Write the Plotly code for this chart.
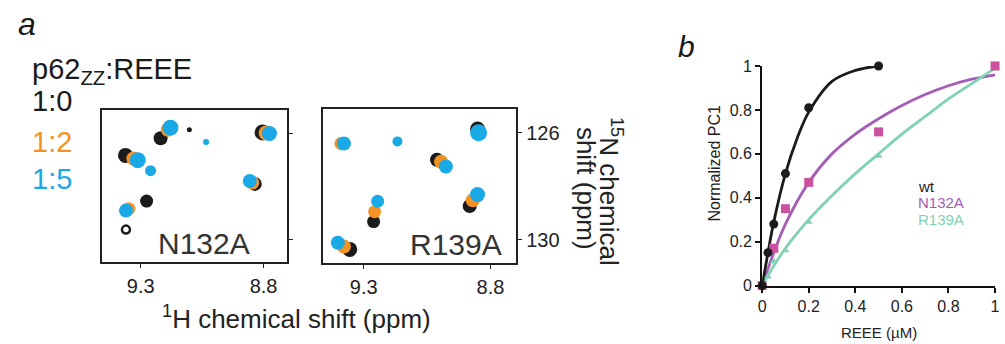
import plotly.graph_objects as go

W, H = 1005, 344
FONT = "Liberation Sans, Arial, sans-serif"

# ---------------- Data: panel a (NMR peaks, ppm) ----------------
n132a_black_x = [9.362, 9.219, 9.102, 8.804, 9.276, 8.836]
n132a_black_y = [126.83, 126.18, 125.86, 125.96, 128.56, 127.91]
n132a_ring_x = [9.360]
n132a_ring_y = [129.64]
n132a_orange_x = [9.330, 9.190, 8.790, 9.348, 8.846]
n132a_orange_y = [126.95, 125.86, 125.98, 128.85, 127.86]
n132a_blue_x = [9.312, 9.179, 9.034, 8.776, 9.260, 9.360, 8.856]
n132a_blue_y = [127.01, 125.78, 126.32, 126.00, 127.41, 128.92, 127.80]

r139a_black_x = [9.011, 8.851, 9.261, 8.882, 9.355]
r139a_black_y = [127.01, 125.86, 129.32, 128.74, 130.36]
r139a_orange_x = [9.390, 8.995, 9.257, 8.870, 9.378]
r139a_orange_y = [126.40, 127.08, 128.95, 128.52, 130.25]
r139a_blue_x = [9.378, 9.167, 8.976, 8.847, 9.245, 8.851, 9.402]
r139a_blue_y = [126.40, 126.32, 127.26, 126.00, 128.56, 128.31, 130.11]

h_ticks = [9.3, 8.8]
n_ticks = [126, 130]
ratio_labels = ["1:0", "1:2", "1:5"]

# ---------------- Data: panel b (titration) ----------------
wt_x = [0, 0.025, 0.05, 0.1, 0.2, 0.5]
wt_y = [0, 0.15, 0.28, 0.51, 0.81, 1.0]
n132a_x = [0, 0.05, 0.1, 0.2, 0.5, 1.0]
n132a_y = [0, 0.17, 0.35, 0.47, 0.70, 1.0]
r139a_x = [0, 0.025, 0.05, 0.1, 0.2, 0.5, 1.0]
r139a_y = [0, 0.04, 0.11, 0.16, 0.29, 0.59, 1.0]

wt_fit_x = [0, 0.025, 0.05, 0.1, 0.15, 0.2, 0.3, 0.4, 0.5]
wt_fit_y = [0, 0.15, 0.29, 0.51, 0.67, 0.79, 0.93, 0.98, 1.0]
n132a_fit_x = [0, 0.05, 0.1, 0.2, 0.3, 0.4, 0.5, 0.6, 0.7, 0.8, 0.9, 1.0]
n132a_fit_y = [0, 0.15, 0.28, 0.47, 0.60, 0.69, 0.76, 0.82, 0.87, 0.91, 0.94, 0.96]
r139a_fit_x = [0, 0.05, 0.1, 0.2, 0.3, 0.4, 0.5, 0.6, 0.7, 0.8, 0.9, 1.0]
r139a_fit_y = [0, 0.09, 0.17, 0.30, 0.41, 0.51, 0.60, 0.69, 0.77, 0.85, 0.92, 0.99]

series_names = ["wt", "N132A", "R139A"]
b_xticks = [0, 0.2, 0.4, 0.6, 0.8, 1]
b_yticks = [0, 0.2, 0.4, 0.6, 0.8, 1]

# ---------------- Styles ----------------
BLACK = "#1b1b1b"
ORANGE = "#f39325"
BLUE = "#18a9e6"
MAG = "#c9519f"
PURPLE = "#a45cb6"
MINT = "#7fd3b2"

n132a_black_size = [15, 14, 5, 16, 13, 14]
n132a_orange_size = [14, 14, 15, 13, 14]
n132a_blue_size = [16, 16, 6, 15, 11, 14, 14]
r139a_black_size = [14, 15, 13, 14, 15]
r139a_orange_size = [13, 14, 13, 14, 14]
r139a_blue_size = [14, 10, 14, 17, 13, 15, 14]


def px(x):
    return x / W


def py(y):
    return 1 - y / H


fig = go.Figure()


def peaks(x, y, color, size, xa, ya, symbol="circle", lw=0):
    fig.add_trace(go.Scatter(
        x=x, y=y, mode="markers", xaxis=xa, yaxis=ya, showlegend=False,
        cliponaxis=True, hoverinfo="skip",
        marker=dict(color=color, size=size, symbol=symbol, opacity=1,
                    line=dict(width=lw, color=color))))


peaks(n132a_black_x, n132a_black_y, BLACK, n132a_black_size, "x", "y")
peaks(n132a_ring_x, n132a_ring_y, BLACK, 8, "x", "y", symbol="circle-open", lw=2.5)
peaks(n132a_orange_x, n132a_orange_y, ORANGE, n132a_orange_size, "x", "y")
peaks(n132a_blue_x, n132a_blue_y, BLUE, n132a_blue_size, "x", "y")

peaks(r139a_black_x, r139a_black_y, BLACK, r139a_black_size, "x2", "y2")
peaks(r139a_orange_x, r139a_orange_y, ORANGE, r139a_orange_size, "x2", "y2")
peaks(r139a_blue_x, r139a_blue_y, BLUE, r139a_blue_size, "x2", "y2")

for fx, fy, col in [(n132a_fit_x, n132a_fit_y, PURPLE),
                    (r139a_fit_x, r139a_fit_y, MINT),
                    (wt_fit_x, wt_fit_y, BLACK)]:
    fig.add_trace(go.Scatter(x=fx, y=fy, mode="lines", xaxis="x3", yaxis="y3",
                             line=dict(color=col, width=2.8, shape="spline"),
                             showlegend=False, cliponaxis=False, hoverinfo="skip"))

fig.add_trace(go.Scatter(x=r139a_x, y=r139a_y, mode="markers", xaxis="x3", yaxis="y3",
                         marker=dict(symbol="triangle-up", size=7, color=MINT, opacity=1),
                         showlegend=False, cliponaxis=False))
fig.add_trace(go.Scatter(x=n132a_x, y=n132a_y, mode="markers", xaxis="x3", yaxis="y3",
                         marker=dict(symbol="square", size=9, color=MAG, opacity=1),
                         showlegend=False, cliponaxis=False))
fig.add_trace(go.Scatter(x=wt_x, y=wt_y, mode="markers", xaxis="x3", yaxis="y3",
                         marker=dict(symbol="circle", size=9, color=BLACK, opacity=1),
                         showlegend=False, cliponaxis=False))

axline = dict(showline=True, linecolor="#222", linewidth=1.6, mirror=True,
              showgrid=False, zeroline=False, ticks="outside", tickcolor="#222",
              tickwidth=1.4, ticklen=4)
tickfont_a = dict(family=FONT, size=20, color="#222")
tickfont_b = dict(family=FONT, size=16, color="#222")
b_ticktext = ["0", "0.2", "0.4", "0.6", "0.8", "1"]

fig.update_layout(
    xaxis=dict(domain=[px(99), px(286)], range=[9.457, 8.703], anchor="y",
               tickvals=h_ticks, ticktext=[str(v) for v in h_ticks],
               tickfont=tickfont_a, ticklabelstandoff=1, **axline),
    yaxis=dict(domain=[py(267), py(107)], range=[130.86, 125.1], anchor="x",
               side="right", tickvals=n_ticks, showticklabels=False, **axline),
    xaxis2=dict(domain=[px(322), px(517)], range=[9.46, 8.698], anchor="y2",
                tickvals=h_ticks, ticktext=[str(v) for v in h_ticks],
                tickfont=tickfont_a, ticklabelstandoff=1, **axline),
    yaxis2=dict(domain=[py(268), py(106)], range=[130.86, 125.1], anchor="x2",
                side="right", tickvals=n_ticks, ticktext=[str(v) for v in n_ticks],
                tickfont=tickfont_a, **axline),
    xaxis3=dict(domain=[px(765), px(1000)], range=[0, 1.0], anchor="y3",
                showline=True, linecolor="#111", linewidth=2, showgrid=False,
                zeroline=False, ticks="outside", tickcolor="#111", tickwidth=2,
                ticklen=5, tickvals=b_xticks, ticktext=b_ticktext,
                ticklabeloverflow="allow", tickfont=tickfont_b),
    yaxis3=dict(domain=[py(292), py(61)], range=[0, 1], anchor="x3",
                showline=True, linecolor="#111", linewidth=2, showgrid=False,
                zeroline=False, ticks="outside", tickcolor="#111", tickwidth=2,
                ticklen=5, tickvals=b_yticks, ticktext=b_ticktext,
                tickfont=tickfont_b),
    width=W, height=H, margin=dict(l=0, r=0, t=0, b=0),
    paper_bgcolor="white", plot_bgcolor="rgba(0,0,0,0)",
    showlegend=False,
)

ann = []


def text(x, y, s, size, color="#1a1a1a", angle=0, xanchor="center", yanchor="middle"):
    ann.append(dict(x=px(x), y=py(y), xref="paper", yref="paper", text=s,
                    showarrow=False, textangle=angle, xanchor=xanchor, yanchor=yanchor,
                    font=dict(family=FONT, size=size, color=color)))


text(12, 17, "<i>a</i>", 32, xanchor="left")
text(26, 66, "p62<sub>ZZ</sub>:REEE", 29, xanchor="left")
for lab, yy, col in zip(ratio_labels, [98, 141, 180], [BLACK, ORANGE, BLUE]):
    text(26, yy, lab, 29, color=col, xanchor="left")
text(202, 248, "N132A", 30, color="#333")
text(456, 249, "R139A", 30, color="#333")
text(295, 326, "<sup>1</sup>H chemical shift (ppm)", 26, color="#222")
text(612, 193, "<sup>15</sup>N chemical", 26, color="#222", angle=90)
text(588, 190, "shift (ppm)", 26, color="#222", angle=90)

text(689, 41, "<i>b</i>", 30, xanchor="center")
text(717, 163, "Normalized PC1", 16, color="#222", angle=-90)
text(883, 330, "REEE (µM)", 15, color="#222", yanchor="top")
for name, yy, col in zip(series_names, [188, 205, 222], [BLACK, PURPLE, MINT]):
    text(920, yy, name, 15, color=col, xanchor="left")

fig.update_layout(annotations=ann)

fig.write_html("out.html", config={"displayModeBar": False},
               post_script="document.body.style.margin='0';")
